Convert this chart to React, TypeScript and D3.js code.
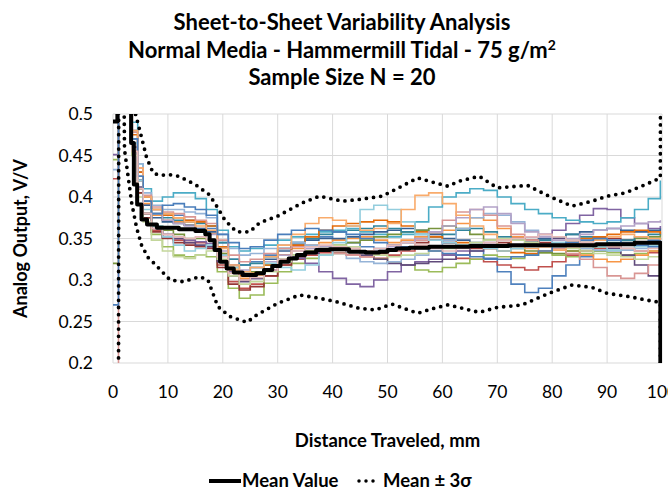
import * as d3 from "d3";
import { useEffect, useRef } from "react";

// distance along the sheet, mm (sample grid of the 20 sensor traces)
const distance = [0, 1, 3.5, 4.5, 5.5, 7, 9, 11, 13, 15, 17, 19, 21, 23, 25, 27.5, 30, 32.5, 35, 37.5, 40, 42.5, 45, 47.5, 50, 52.5, 55, 57.5, 60, 62.5, 65, 67.5, 70, 72.5, 75, 77.5, 80, 82.5, 85, 87.5, 90, 92.5, 95, 97.5, 99.7];

// analog output per sheet, V/V
const sheet01 = [.58, .6, .48, .43, .40, .385, .38, .378, .372, .37, .362, .345, .325, .318, .322, .33, .338, .345, .35, .352, .348, .345, .34, .338, .342, .345, .35, .348, .345, .34, .335, .325, .31, .295, .285, .29, .305, .318, .328, .335, .34, .342, .345, .348, .35];
const sheet02 = [.422, .6, .46, .41, .38, .36, .352, .348, .345, .345, .34, .318, .298, .29, .295, .305, .318, .325, .33, .333, .333, .33, .328, .326, .33, .335, .338, .335, .33, .326, .325, .322, .318, .315, .312, .316, .322, .33, .335, .338, .34, .338, .335, .333, .335];
const sheet03 = [.445, .6, .45, .405, .375, .355, .34, .33, .328, .33, .328, .31, .29, .278, .282, .296, .31, .32, .326, .33, .332, .335, .33, .325, .322, .318, .312, .31, .315, .32, .325, .33, .328, .326, .33, .333, .33, .328, .332, .335, .333, .33, .332, .335, .338];
const sheet04 = [.451, .6, .47, .42, .39, .365, .352, .35, .348, .346, .344, .33, .31, .3, .302, .312, .322, .326, .32, .31, .302, .295, .292, .3, .31, .318, .322, .325, .33, .335, .34, .345, .348, .35, .352, .355, .36, .368, .378, .386, .385, .375, .368, .362, .365];
const sheet05 = [.6, .6, .49, .44, .41, .395, .4, .405, .405, .398, .385, .36, .34, .335, .338, .342, .348, .352, .355, .358, .36, .362, .358, .355, .352, .355, .37, .388, .4, .405, .41, .408, .4, .392, .385, .38, .375, .372, .37, .368, .37, .375, .385, .398, .42];
const sheet06 = [.57, .6, .47, .42, .392, .378, .372, .37, .366, .362, .356, .332, .312, .302, .306, .318, .33, .338, .342, .345, .348, .35, .352, .348, .345, .348, .352, .355, .36, .368, .375, .372, .362, .352, .345, .34, .338, .335, .33, .325, .322, .325, .33, .335, .338];
const sheet07 = [.62, .6, .465, .42, .39, .375, .37, .368, .366, .362, .358, .34, .318, .31, .315, .325, .335, .342, .348, .35, .35, .352, .355, .358, .36, .362, .36, .355, .35, .348, .345, .342, .34, .342, .345, .35, .352, .355, .358, .36, .362, .36, .358, .36, .362];
const sheet08 = [.55, .6, .455, .405, .375, .358, .35, .345, .342, .34, .338, .315, .295, .288, .292, .305, .318, .328, .335, .338, .34, .338, .335, .332, .335, .34, .345, .348, .345, .342, .338, .34, .345, .35, .348, .345, .342, .345, .35, .352, .35, .348, .345, .342, .34];
const sheet09 = [.32, .6, .46, .41, .38, .365, .36, .355, .35, .35, .348, .332, .315, .308, .31, .318, .325, .33, .335, .34, .342, .345, .348, .352, .355, .358, .36, .362, .365, .362, .355, .348, .342, .338, .335, .333, .332, .335, .338, .34, .342, .345, .35, .352, .355];
const sheet10 = [.6, .6, .46, .412, .38, .362, .355, .35, .345, .342, .34, .322, .305, .298, .302, .312, .322, .328, .332, .335, .336, .334, .33, .325, .32, .318, .32, .322, .325, .33, .335, .338, .34, .342, .345, .348, .35, .348, .345, .342, .338, .33, .318, .305, .295];
const sheet11 = [.58, .6, .47, .425, .395, .38, .375, .372, .37, .368, .365, .345, .325, .318, .32, .328, .338, .345, .35, .355, .358, .36, .362, .365, .362, .358, .355, .352, .355, .36, .362, .358, .352, .348, .345, .348, .352, .355, .352, .348, .345, .348, .352, .355, .358];
const sheet12 = [.6, .6, .475, .43, .4, .385, .378, .375, .372, .37, .365, .34, .315, .305, .308, .318, .33, .342, .352, .36, .365, .368, .37, .372, .37, .365, .358, .352, .348, .345, .342, .338, .335, .333, .332, .335, .34, .345, .35, .352, .355, .358, .36, .358, .355];
const sheet13 = [.433, .6, .48, .44, .405, .39, .385, .385, .382, .38, .375, .355, .338, .33, .332, .338, .342, .345, .342, .338, .332, .326, .322, .32, .322, .325, .33, .338, .348, .362, .375, .38, .378, .37, .36, .352, .345, .34, .338, .336, .335, .336, .338, .34, .342];
const sheet14 = [.1, .6, .478, .435, .402, .388, .382, .38, .376, .372, .368, .348, .33, .322, .325, .332, .338, .34, .338, .335, .332, .33, .328, .33, .335, .34, .348, .358, .372, .382, .385, .378, .365, .355, .348, .342, .338, .332, .325, .315, .305, .302, .308, .318, .328];
const sheet15 = [.56, .6, .45, .4, .37, .348, .335, .328, .326, .33, .335, .325, .305, .295, .298, .31, .322, .33, .335, .34, .342, .34, .335, .33, .328, .33, .332, .335, .338, .342, .345, .348, .35, .348, .345, .342, .34, .338, .335, .332, .33, .328, .325, .328, .33];
const sheet16 = [.6, .6, .47, .425, .395, .38, .372, .368, .365, .36, .355, .335, .318, .312, .315, .322, .33, .335, .338, .34, .338, .335, .332, .335, .34, .345, .35, .358, .365, .375, .385, .388, .38, .368, .358, .352, .348, .35, .355, .36, .362, .365, .368, .37, .372];
const sheet17 = [.59, .6, .465, .42, .385, .365, .352, .342, .335, .338, .342, .33, .315, .31, .315, .32, .315, .312, .318, .33, .345, .365, .385, .39, .385, .37, .355, .348, .345, .342, .34, .338, .335, .338, .34, .342, .345, .348, .345, .34, .336, .338, .34, .342, .345];
const sheet18 = [.61, .6, .48, .435, .4, .385, .38, .375, .37, .365, .36, .338, .318, .31, .315, .328, .342, .355, .368, .375, .372, .365, .36, .362, .368, .385, .402, .405, .392, .378, .365, .355, .348, .342, .338, .335, .336, .34, .345, .348, .352, .355, .352, .35, .348];
const sheet19 = [.27, .6, .47, .425, .395, .38, .39, .392, .388, .385, .378, .355, .345, .338, .34, .348, .355, .36, .362, .36, .358, .355, .35, .345, .342, .34, .338, .335, .332, .33, .328, .326, .325, .328, .33, .335, .34, .345, .348, .35, .348, .345, .342, .34, .338];
const sheet20 = [.6, .6, .455, .41, .38, .362, .355, .352, .35, .352, .348, .328, .308, .3, .303, .312, .325, .335, .34, .342, .34, .338, .335, .338, .342, .345, .342, .338, .335, .338, .342, .345, .348, .35, .352, .355, .352, .348, .345, .342, .34, .338, .335, .338, .34];

const sheets = [sheet01, sheet02, sheet03, sheet04, sheet05, sheet06, sheet07, sheet08, sheet09, sheet10,
  sheet11, sheet12, sheet13, sheet14, sheet15, sheet16, sheet17, sheet18, sheet19, sheet20];
const sheetColors = ["#4F81BD", "#C0504D", "#9BBB59", "#8064A2", "#4BACC6", "#F79646", "#376092", "#953735", "#77933C", "#604A7B",
  "#31859C", "#E46C0A", "#95B3D7", "#D99694", "#C3D69B", "#B3A2C7", "#93CDDD", "#F9AB6B", "#4A7EBB", "#E6B9B8"];

// mean of the 20 sheets
const meanDistance = [0, 0.8, 3.3, 3.8, 4.4, 5.2, 6.2, 8, 12, 15, 16.8, 17.6, 18.5, 19.5, 20.7, 22, 23.6, 25, 26.1, 27.5, 29, 30.5, 32, 33.5, 35, 37, 39.5, 43, 46, 48.5, 50, 51.6, 54, 57.6, 65, 72, 80, 88, 95, 99.7];
const meanValue = [.491, .6, .465, .415, .391, .373, .367, .363, .361, .359, .355, .348, .336, .322, .314, .309, .306, .306, .308, .312, .317, .322, .326, .33, .333, .336, .337, .334, .333, .334, .336, .338, .339, .34, .341, .342, .342, .343, .345, 0];

// mean + 3 sigma
const upperDistance = [0, 4.3, 5.2, 6.1, 7.3, 8.5, 10.2, 12, 15, 17.5, 18.7, 20.4, 22.5, 24.9, 26.7, 30, 34.5, 37.6, 41.8, 44.8, 49, 52, 55.5, 58.7, 61, 63, 66.7, 70, 75.5, 79.4, 83.6, 87.3, 90, 93.3, 97, 99.7, 99.75];
const upperValue = [.6, .495, .472, .448, .429, .426, .427, .425, .415, .403, .391, .372, .358, .358, .369, .377, .393, .401, .395, .397, .401, .411, .423, .417, .413, .419, .425, .411, .414, .401, .389, .395, .401, .405, .415, .423, .6];

// mean - 3 sigma
const lowerDistance = [0, 1, 1.05, 1.9, 2.1, 3.4, 4.3, 5.2, 6.4, 7.8, 10.4, 12.8, 15.8, 17.3, 18.2, 19.1, 21.3, 24.4, 26.2, 30, 34, 37.6, 40.6, 44.8, 47.8, 50.8, 55.5, 58.5, 61, 63, 66.7, 70, 74.5, 79.4, 83.6, 87.3, 90, 94, 97, 99.7, 99.75];
const lowerValue = [.1, .1, .6, .6, .457, .393, .363, .342, .327, .318, .3, .298, .304, .3, .284, .268, .256, .249, .258, .272, .282, .278, .274, .266, .264, .271, .26, .266, .27, .267, .261, .267, .27, .284, .294, .291, .284, .28, .276, .273, .1];

const xTicks = [0, 10, 20, 30, 40, 50, 60, 70, 80, 90, 100];
const yTicks = [0.2, 0.25, 0.3, 0.35, 0.4, 0.45, 0.5];
const yTickLabels = ["0.2", "0.25", "0.3", "0.35", "0.4", "0.45", "0.5"];

const svgX = 668;
const svgY = 491;
const font = "Lato, 'Open Sans', sans-serif";

export default function App() {
  const ref = useRef<SVGSVGElement>(null);

  useEffect(() => {
    document.body.style.margin = "0";
    const svg = d3.select(ref.current);
    svg.selectAll("*").remove();

    const x = d3.scaleLinear().domain([0, 100]).range([113, 662]);
    const y = d3.scaleLinear().domain([0.2, 0.5]).range([363, 114]);

    // title
    const title = svg.append("text")
      .attr("text-anchor", "middle")
      .attr("font-family", font)
      .attr("font-weight", "bold")
      .attr("font-size", 22)
      .attr("fill", "#000");
    title.append("tspan").attr("x", 342).attr("y", 30).text("Sheet-to-Sheet Variability Analysis");
    const t2 = title.append("tspan").attr("x", 342).attr("y", 58);
    t2.append("tspan").text("Normal Media - Hammermill Tidal - 75 g/m");
    t2.append("tspan").attr("dy", -8).attr("font-size", 14).text("2");
    title.append("tspan").attr("x", 342).attr("y", 85).text("Sample Size N = 20");

    // gridlines
    svg.append("g")
      .selectAll("line")
      .data(yTicks)
      .join("line")
      .attr("x1", x(0)).attr("x2", x(100))
      .attr("y1", (d) => y(d)).attr("y2", (d) => y(d))
      .attr("stroke", "#D9D9D9").attr("stroke-width", 1);
    svg.append("g")
      .selectAll("line")
      .data(xTicks)
      .join("line")
      .attr("x1", (d) => x(d)).attr("x2", (d) => x(d))
      .attr("y1", y(0.2)).attr("y2", y(0.5))
      .attr("stroke", "#D9D9D9").attr("stroke-width", 1);

    // tick labels
    svg.append("g")
      .selectAll("text")
      .data(yTicks)
      .join("text")
      .attr("x", 93)
      .attr("y", (d) => y(d) + 6)
      .attr("text-anchor", "end")
      .attr("font-family", font)
      .attr("font-size", 17.5)
      .text((_, i) => yTickLabels[i]);
    svg.append("g")
      .selectAll("text")
      .data(xTicks)
      .join("text")
      .attr("x", (d) => x(d))
      .attr("y", 398)
      .attr("text-anchor", "middle")
      .attr("font-family", font)
      .attr("font-size", 17.5)
      .text((d) => d);

    // axis titles
    svg.append("text")
      .attr("x", x(50))
      .attr("y", 447)
      .attr("text-anchor", "middle")
      .attr("font-family", font)
      .attr("font-weight", "bold")
      .attr("font-size", 18.5)
      .text("Distance Traveled, mm");
    svg.append("text")
      .attr("transform", `translate(27,${(y(0.2) + y(0.5)) / 2}) rotate(-90)`)
      .attr("text-anchor", "middle")
      .attr("font-family", font)
      .attr("font-weight", "bold")
      .attr("font-size", 18)
      .text("Analog Output, V/V");

    // plot clip
    svg.append("clipPath").attr("id", "plotClip")
      .append("rect")
      .attr("x", x(0)).attr("y", y(0.5))
      .attr("width", x(100) - x(0)).attr("height", y(0.2) - y(0.5));
    const plot = svg.append("g").attr("clip-path", "url(#plotClip)");

    const sheetLine = d3.line<number>()
      .x((_, i) => x(distance[i]))
      .y((d) => y(d))
      .curve(d3.curveStepAfter);

    plot.selectAll("path.sheet")
      .data(sheets)
      .join("path")
      .attr("class", "sheet")
      .attr("d", (d) => sheetLine(d))
      .attr("fill", "none")
      .attr("stroke", (_, i) => sheetColors[i])
      .attr("stroke-width", 1.6);

    const meanLine = d3.line<number>()
      .x((_, i) => x(meanDistance[i]))
      .y((d) => y(d))
      .curve(d3.curveStepAfter);
    plot.append("path")
      .attr("d", meanLine(meanValue))
      .attr("fill", "none")
      .attr("stroke", "#000")
      .attr("stroke-width", 4)
      .attr("stroke-linejoin", "round");

    const upperLine = d3.line<number>()
      .x((_, i) => x(upperDistance[i]))
      .y((d) => y(d));
    const lowerLine = d3.line<number>()
      .x((_, i) => x(lowerDistance[i]))
      .y((d) => y(d));
    [upperLine(upperValue), lowerLine(lowerValue)].forEach((p) => {
      plot.append("path")
        .attr("d", p)
        .attr("fill", "none")
        .attr("stroke", "#000")
        .attr("stroke-width", 3.8)
        .attr("stroke-linecap", "round")
        .attr("stroke-dasharray", "0 7.2");
    });

    // legend
    const legend = svg.append("g").attr("font-family", font).attr("font-weight", "bold").attr("font-size", 18.5);
    legend.append("line")
      .attr("x1", 209).attr("x2", 241).attr("y1", 481).attr("y2", 481)
      .attr("stroke", "#000").attr("stroke-width", 4);
    legend.append("text").attr("x", 242).attr("y", 487).text("Mean Value");
    legend.append("line")
      .attr("x1", 359).attr("x2", 380).attr("y1", 481).attr("y2", 481)
      .attr("stroke", "#000").attr("stroke-width", 3.5)
      .attr("stroke-linecap", "round").attr("stroke-dasharray", "0 7");
    legend.append("text").attr("x", 383).attr("y", 487).text("Mean \u00B1 3\u03C3");
  }, []);

  return <svg ref={ref} width={svgX} height={svgY} style={{ display: "block" }} />;
}
